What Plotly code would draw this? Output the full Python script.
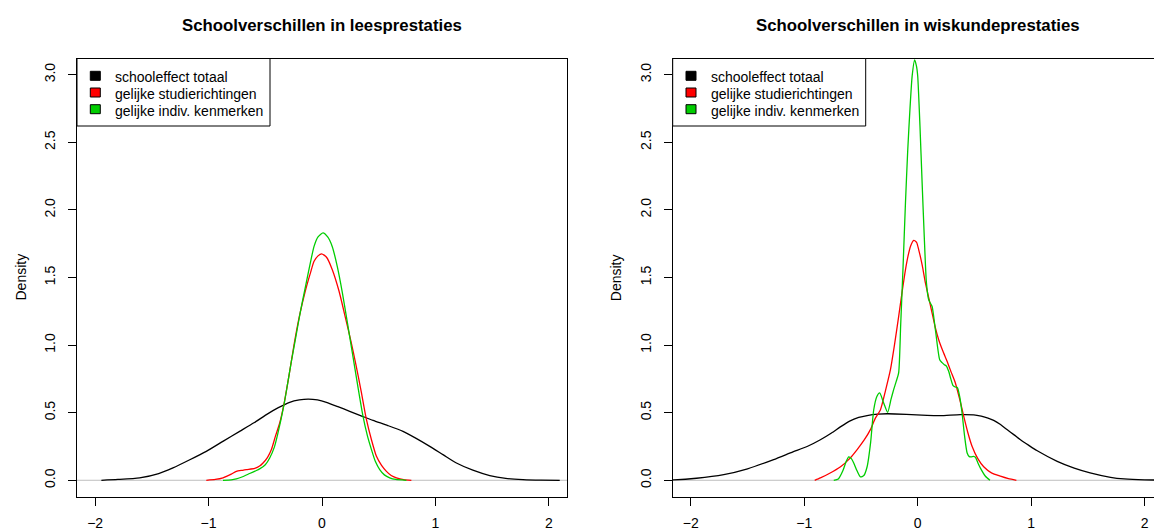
import plotly.graph_objects as go

# ---------------- data ----------------
x_ticks = [-2, -1, 0, 1, 2]
x_tick_labels = ["\u22122", "\u22121", "0", "1", "2"]
y_ticks = [0, 0.5, 1.0, 1.5, 2.0, 2.5, 3.0]
y_tick_labels = ["0.0", "0.5", "1.0", "1.5", "2.0", "2.5", "3.0"]

titles = ["Schoolverschillen in leesprestaties", "Schoolverschillen in wiskundeprestaties"]
y_label = "Density"
series_names = ["schooleffect totaal", "gelijke studierichtingen", "gelijke indiv. kenmerken"]
series_colors = ["#000000", "#FF0000", "#00CD00"]

# --- left panel: leesprestaties
lees_totaal_x = [-1.945, -1.80, -1.608, -1.44, -1.314, -1.17, -1.02, -0.87, -0.726, -0.60, -0.49,
                 -0.385, -0.285, -0.20, -0.123, -0.04, 0.039, 0.14, 0.244, 0.345, 0.45, 0.58, 0.714,
                 0.83, 0.95, 1.07, 1.185, 1.33, 1.479, 1.62, 1.772, 1.93, 2.096]
lees_totaal_y = [0.0, 0.006, 0.018, 0.050, 0.092, 0.150, 0.214, 0.290, 0.362, 0.425, 0.486,
                 0.537, 0.577, 0.594, 0.600, 0.594, 0.577, 0.545, 0.510, 0.477, 0.443, 0.405, 0.362,
                 0.310, 0.251, 0.188, 0.128, 0.075, 0.035, 0.014, 0.005, 0.001, 0.0]

lees_studie_x = [-1.02, -0.94, -0.873, -0.80, -0.755, -0.70, -0.667, -0.593, -0.55, -0.52, -0.48,
                 -0.446, -0.409, -0.373, -0.336, -0.29, -0.247, -0.20, -0.144, -0.10, -0.07, -0.035,
                 -0.003, 0.04, 0.09, 0.15, 0.21, 0.255, 0.298, 0.345, 0.39, 0.436, 0.48, 0.525,
                 0.568, 0.61, 0.656, 0.72, 0.788]
lees_studie_y = [0.0, 0.006, 0.018, 0.045, 0.066, 0.074, 0.079, 0.088, 0.105, 0.128, 0.170,
                 0.227, 0.33, 0.424, 0.56, 0.78, 1.0, 1.21, 1.41, 1.54, 1.62, 1.66,
                 1.675, 1.65, 1.56, 1.40, 1.19, 1.03, 0.86, 0.66, 0.456, 0.30, 0.177, 0.11,
                 0.066, 0.035, 0.018, 0.005, 0.0]

lees_indiv_x = [-0.873, -0.80, -0.755, -0.70, -0.638, -0.59, -0.55, -0.50, -0.461, -0.42, -0.388,
                -0.335, -0.306, -0.27, -0.233, -0.19, -0.144, -0.10, -0.07, -0.035, 0.009, 0.05,
                0.09, 0.135, 0.18, 0.225, 0.268, 0.315, 0.36, 0.40, 0.436, 0.47, 0.509, 0.55,
                0.597, 0.65, 0.744]
lees_indiv_y = [0.0, 0.003, 0.01, 0.026, 0.05, 0.068, 0.084, 0.115, 0.165, 0.245, 0.35,
                0.56, 0.70, 0.88, 1.05, 1.25, 1.44, 1.62, 1.73, 1.80, 1.83, 1.80,
                1.73, 1.58, 1.385, 1.16, 0.94, 0.70, 0.48, 0.33, 0.227, 0.14, 0.079, 0.04,
                0.018, 0.006, 0.0]

# --- right panel: wiskundeprestaties
wisk_totaal_x = [-2.30, -2.15, -1.95, -1.71, -1.50, -1.27, -1.10, -0.975, -0.858, -0.76, -0.682,
                 -0.60, -0.52, -0.446, -0.35, -0.27, -0.10, 0.083, 0.20, 0.376, 0.494, 0.56, 0.62,
                 0.67, 0.73, 0.787, 0.85, 0.906, 0.98, 1.05, 1.23, 1.38, 1.52, 1.70, 1.82, 2.0, 2.2]
wisk_totaal_y = [0.001, 0.003, 0.015, 0.042, 0.085, 0.153, 0.21, 0.25, 0.30, 0.35, 0.395,
                 0.438, 0.465, 0.479, 0.489, 0.492, 0.488, 0.480, 0.478, 0.486, 0.484, 0.474, 0.46,
                 0.443, 0.412, 0.375, 0.336, 0.30, 0.258, 0.22, 0.14, 0.09, 0.055, 0.022, 0.01,
                 0.003, 0.001]

wisk_studie_x = [-0.908, -0.858, -0.78, -0.68, -0.60, -0.534, -0.47, -0.417, -0.373, -0.329, -0.285,
                 -0.24, -0.205, -0.168, -0.138, -0.108, -0.085, -0.064, -0.035, -0.01, 0.009, 0.04,
                 0.068, 0.10, 0.127, 0.155, 0.185, 0.22, 0.259, 0.295, 0.332, 0.37, 0.406, 0.443,
                 0.48, 0.53, 0.582, 0.65, 0.729, 0.80, 0.870]
wisk_studie_y = [0.0, 0.018, 0.05, 0.10, 0.16, 0.227, 0.30, 0.375, 0.46, 0.52, 0.66,
                 0.82, 1.0, 1.21, 1.39, 1.557, 1.66, 1.73, 1.774, 1.76, 1.705, 1.59,
                 1.46, 1.34, 1.237, 1.13, 1.04, 0.96, 0.88, 0.80, 0.72, 0.60, 0.473, 0.35,
                 0.25, 0.16, 0.10, 0.055, 0.03, 0.012, 0.0]

wisk_indiv_x = [-0.74, -0.70, -0.66, -0.63, -0.608, -0.585, -0.564, -0.535, -0.505, -0.475, -0.446,
                -0.415, -0.388, -0.36, -0.335, -0.30, -0.265, -0.235, -0.212, -0.19, -0.168, -0.15,
                -0.129, -0.108, -0.088, -0.068, -0.049, -0.027, -0.01, 0.0, 0.02, 0.039, 0.058,
                0.077, 0.097, 0.112, 0.127, 0.156, 0.194, 0.215, 0.235, 0.253, 0.273, 0.292, 0.312,
                0.33, 0.35, 0.37, 0.391, 0.413, 0.436, 0.455, 0.471, 0.494, 0.509, 0.53, 0.553,
                0.597, 0.637]
wisk_indiv_y = [0.0, 0.01, 0.07, 0.14, 0.173, 0.16, 0.128, 0.07, 0.025, 0.035, 0.10,
                0.28, 0.52, 0.62, 0.646, 0.572, 0.503, 0.60, 0.67, 0.73, 0.794, 1.15,
                1.58, 2.05, 2.44, 2.75, 2.99, 3.11, 3.06, 2.99, 2.62, 2.2, 1.80,
                1.46, 1.335, 1.31, 1.286, 1.114, 0.892, 0.87, 0.855, 0.845, 0.806, 0.75, 0.70,
                0.69, 0.685, 0.62, 0.498, 0.33, 0.202, 0.175, 0.173, 0.177, 0.17, 0.13, 0.09,
                0.03, 0.0]

panels = [
    [(lees_totaal_x, lees_totaal_y), (lees_studie_x, lees_studie_y), (lees_indiv_x, lees_indiv_y)],
    [(wisk_totaal_x, wisk_totaal_y), (wisk_studie_x, wisk_studie_y), (wisk_indiv_x, wisk_indiv_y)],
]

# ---------------- layout geometry (pixels) ----------------
W, H = 1154, 530
FONT = "Liberation Sans, Arial, Helvetica, sans-serif"
BASE = 14
box_left = [77.0, 672.7]
box_w = 490.0
box_top, box_bot = 58.5, 496.5
x_full = (-2.16, 2.16)
y_full = (-0.12, 3.12)


def px(v):
    return v / W


def py(v):
    return 1 - v / H


fig = go.Figure()

for p, curves in enumerate(panels):
    xa = "x" if p == 0 else "x2"
    ya = "y" if p == 0 else "y2"
    for (xs, ys), name, col in zip(curves, series_names, series_colors):
        fig.add_trace(go.Scatter(x=xs, y=ys, mode="lines", name=name, showlegend=False,
                                 line=dict(color=col, width=1.3, shape="spline", smoothing=0.6),
                                 xaxis=xa, yaxis=ya, hoverinfo="skip"))

shapes = []
annotations = []

for p in range(2):
    L = box_left[p]
    R = min(L + box_w, W)
    xr1 = x_full[0] + (x_full[1] - x_full[0]) * (R - L) / box_w
    axis_common = dict(showgrid=False, zeroline=False, showline=True, linecolor="black",
                       linewidth=1, ticks="outside", ticklen=8, tickwidth=1, tickcolor="black",
                       tickfont=dict(family=FONT, size=BASE, color="black"), automargin=False)
    xkey = "xaxis" if p == 0 else "xaxis2"
    ykey = "yaxis" if p == 0 else "yaxis2"
    fig.update_layout({
        xkey: dict(domain=[px(L), px(R)], range=[x_full[0], xr1], tickmode="array",
                   tickvals=x_ticks, ticktext=x_tick_labels, mirror=True,
                   anchor="y" if p == 0 else "y2", ticklabelstandoff=6, **axis_common),
        ykey: dict(domain=[py(box_bot), py(box_top)], range=list(y_full), tickmode="array",
                   tickvals=y_ticks, ticktext=y_tick_labels, tickangle=-90,
                   mirror=(p == 0), anchor="x" if p == 0 else "x2", ticklabelstandoff=7,
                   **axis_common),
    })
    xdom = "x domain" if p == 0 else "x2 domain"
    yref = "y" if p == 0 else "y2"
    # gray zero line
    shapes.append(dict(type="line", xref=xdom, yref=yref, x0=0, x1=1, y0=0, y1=0,
                       line=dict(color="#BEBEBE", width=1), layer="below"))
    # title
    annotations.append(dict(text="<b>%s</b>" % titles[p], x=px(L + box_w / 2), y=py(25.5),
                            xref="paper", yref="paper", xanchor="center", yanchor="middle",
                            showarrow=False, font=dict(family=FONT, size=BASE * 1.2, color="black")))
    # y axis label
    annotations.append(dict(text=y_label, x=px(L - 57), y=py((box_top + box_bot) / 2),
                            xref="paper", yref="paper", xanchor="center", yanchor="middle",
                            textangle=-90, showarrow=False,
                            font=dict(family=FONT, size=BASE, color="black")))
    # legend box
    shapes.append(dict(type="rect", xref="paper", yref="paper", x0=px(L), x1=px(L + 193),
                       y0=py(126), y1=py(box_top), line=dict(color="black", width=1),
                       fillcolor="white", layer="above"))
    for i, (name, col) in enumerate(zip(series_names, series_colors)):
        cy = 75.8 + 16.7 * i
        shapes.append(dict(type="rect", xref="paper", yref="paper", x0=px(L + 13.3),
                           x1=px(L + 23.3), y0=py(cy + 4.5), y1=py(cy - 4.5),
                           line=dict(color="black", width=1), fillcolor=col, layer="above"))
        annotations.append(dict(text=name, x=px(L + 35.8), y=py(cy + 1.3), xref="paper",
                                yref="paper", xanchor="left", yanchor="middle", showarrow=False,
                                font=dict(family=FONT, size=BASE, color="black")))

fig.update_layout(width=W, height=H, margin=dict(l=0, r=0, t=0, b=0, pad=0),
                  paper_bgcolor="white", plot_bgcolor="white", showlegend=False,
                  shapes=shapes, annotations=annotations)

fig.write_html("out.html")
